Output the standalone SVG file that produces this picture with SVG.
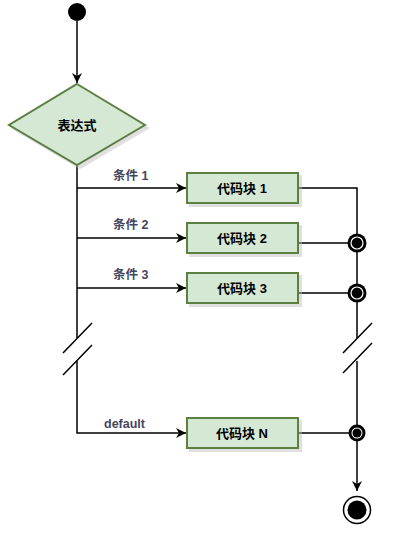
<svg xmlns="http://www.w3.org/2000/svg" width="402" height="537" viewBox="0 0 402 537">
<defs>
<marker id="ah" viewBox="0 0 10 10" refX="10" refY="5" markerWidth="10" markerHeight="10" markerUnits="userSpaceOnUse" orient="auto">
<path d="M0,0 L10,5 L0,10 L3,5 Z" fill="#000"/>
</marker>
<filter id="sh" x="-10%" y="-10%" width="130%" height="140%">
<feOffset dx="3" dy="3" in="SourceAlpha" result="o"/>
<feColorMatrix in="o" type="matrix" values="0 0 0 0 0.5  0 0 0 0 0.5  0 0 0 0 0.5  0 0 0 0.45 0" result="c"/>
<feMerge><feMergeNode in="c"/><feMergeNode in="SourceGraphic"/></feMerge>
</filter>
</defs>
<style>
.box{fill:#d5e8d4;stroke:#5b7f43;stroke-width:2;}
.bt{font-family:"Liberation Sans","Noto Sans CJK SC",sans-serif;font-size:13px;font-weight:bold;fill:#000;text-anchor:middle;}
.lb{font-family:"Liberation Sans","Noto Sans CJK SC",sans-serif;font-size:12.5px;font-weight:bold;fill:#454560;}
.ln{fill:none;stroke:#000;stroke-width:1.5;}
</style>
<rect width="402" height="537" fill="#fff"/>
<g id="connectors">
<path class="ln" d="M77,21 V83" marker-end="url(#ah)"/>
<path class="ln" d="M77,165 V338"/>
<path class="ln" d="M77,361 V433 H186" marker-end="url(#ah)"/>
<path class="ln" d="M77,188 H186" marker-end="url(#ah)"/>
<path class="ln" d="M77,238 H186" marker-end="url(#ah)"/>
<path class="ln" d="M77,288 H186" marker-end="url(#ah)"/>
<path class="ln" d="M63,353 L92,323 M63,375 L92,345"/>
<path class="ln" d="M298,188 H357 V338"/>
<path class="ln" d="M357,361 V433"/>
<path class="ln" d="M298,243 H357 M298,293 H357 M298,433 H357"/>
<path class="ln" d="M343,353 L372,323 M343,373 L372,343"/>
<path class="ln" d="M357,433 V491" marker-end="url(#ah)"/>
<text class="lb" x="113" y="180">条件 1</text>
<text class="lb" x="113" y="229">条件 2</text>
<text class="lb" x="113" y="279">条件 3</text>
<text class="lb" x="104" y="428">default</text>
</g>
<g id="start"><circle cx="77" cy="12" r="9" fill="#000"/></g>
<g id="expr">
<polygon points="77,84 145,125 77,165 9,125" class="box" filter="url(#sh)"/>
<text class="bt" x="77" y="130">表达式</text>
</g>
<g id="b1"><rect class="box" x="187" y="173" width="111" height="30" filter="url(#sh)"/><text class="bt" x="242" y="193">代码块 1</text></g>
<g id="b2"><rect class="box" x="187" y="223" width="111" height="30" filter="url(#sh)"/><text class="bt" x="242" y="243">代码块 2</text></g>
<g id="b3"><rect class="box" x="187" y="273" width="111" height="30" filter="url(#sh)"/><text class="bt" x="242" y="293">代码块 3</text></g>
<g id="bn"><rect class="box" x="187" y="418" width="111" height="30" filter="url(#sh)"/><text class="bt" x="242" y="438">代码块 N</text></g>
<g id="j2"><circle cx="357" cy="243" r="9.5" fill="#000"/><circle cx="357" cy="243" r="6" fill="none" stroke="#fff" stroke-width="1.2"/></g>
<g id="j3"><circle cx="357" cy="293" r="9.5" fill="#000"/><circle cx="357" cy="293" r="6" fill="none" stroke="#fff" stroke-width="1.2"/></g>
<g id="jn"><circle cx="357" cy="433" r="7" fill="#fff" stroke="#000" stroke-width="3"/><circle cx="357" cy="433" r="4.5" fill="#000"/></g>
<g id="end"><circle cx="357" cy="510" r="13.5" fill="#fff" stroke="#000" stroke-width="1.5"/><circle cx="357" cy="510" r="9.5" fill="#000"/></g>
</svg>
